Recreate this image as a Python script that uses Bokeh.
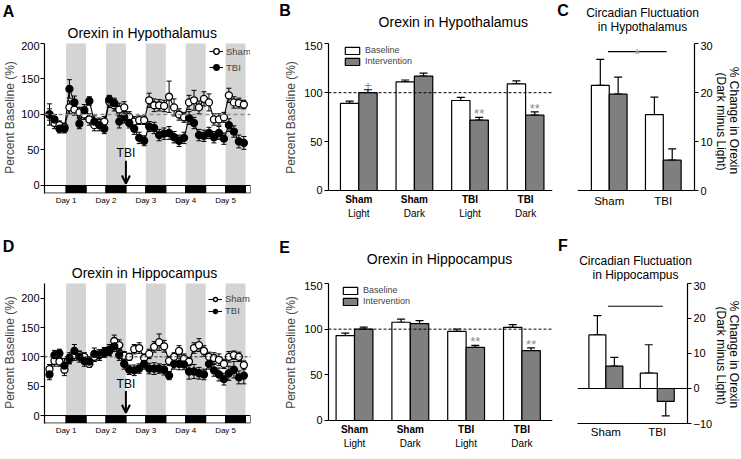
import numpy as np
from bokeh.plotting import figure
from bokeh.layouts import row, column
from bokeh.models import (ColumnDataSource, Range1d, LinearAxis, FixedTicker, Span,
                          Legend, LegendItem, Whisker, TeeHead, Arrow, OpenHead,
                          BoxAnnotation)
from bokeh.embed import file_html
from bokeh.resources import INLINE
from bokeh.core.properties import value

FONT = "Liberation Sans"
BAND = "#d4d4d4"
BAR_GRAY = "#7f7f7f"
MARK_GRAY = "#8a8a8a"

# ---------------- data ----------------
sample_hours = [2, 5, 8, 11, 14, 17, 20, 23, 26, 29, 32, 35, 38, 41, 44, 47, 50, 53, 56, 59,
                62, 65, 68, 71, 74, 77, 80, 83, 86, 89, 92, 95, 98, 101, 104, 107, 110, 113, 116, 119]
dark_start = [12, 36, 60, 84, 108]
dark_end = [24, 48, 72, 96, 120]
light_start = [-1, 24, 48, 72, 96, 120]
light_end = [12, 36, 60, 84, 108, 123]
day_ticks = [12, 36, 60, 84, 108]
day_labels = ["Day 1", "Day 2", "Day 3", "Day 4", "Day 5"]
tbi_hour = 48

hyp_sham = [100, 88, 85, 82, 110, 107, 103, 100, 93, 85, 88, 90, 118, 113, 107, 110, 97, 90, 92, 92,
            120, 113, 113, 112, 125, 110, 100, 96, 117, 120, 110, 122, 117, 93, 93, 96, 127, 117, 116, 114]
hyp_sham_sem = [15, 8, 6, 6, 9, 8, 7, 7, 8, 8, 7, 7, 8, 8, 9, 8, 7, 7, 6, 6,
                10, 9, 8, 8, 22, 12, 8, 7, 10, 14, 9, 10, 12, 8, 8, 7, 10, 8, 7, 6]
hyp_tbi = [100, 93, 80, 80, 136, 117, 87, 106, 119, 90, 85, 80, 121, 116, 90, 96, 88, 80, 67, 63,
           83, 81, 71, 73, 74, 68, 63, 67, 95, 88, 71, 70, 74, 68, 74, 66, 85, 76, 62, 60]
hyp_tbi_sem = [8, 7, 6, 6, 13, 9, 7, 8, 6, 8, 8, 7, 6, 7, 9, 8, 7, 8, 8, 7,
               7, 8, 8, 8, 9, 8, 8, 8, 9, 8, 8, 8, 8, 8, 9, 8, 9, 8, 9, 9]

hip_sham = [79, 93, 92, 78, 96, 103, 103, 100, 88, 100, 103, 108, 112, 127, 120, 102, 100, 113, 115, 98,
            105, 117, 125, 118, 93, 100, 110, 97, 92, 115, 120, 110, 100, 98, 95, 88, 100, 103, 100, 86]
hip_sham_sem = [8, 9, 8, 10, 8, 9, 7, 7, 6, 8, 9, 8, 9, 10, 9, 7, 6, 8, 9, 7,
                8, 9, 14, 10, 8, 7, 9, 8, 7, 9, 11, 9, 8, 9, 10, 8, 9, 7, 8, 7]
hip_tbi = [70, 103, 106, 85, 98, 110, 100, 93, 92, 105, 103, 107, 110, 118, 103, 88, 78, 77, 80, 88,
           80, 80, 80, 78, 68, 88, 88, 87, 75, 75, 72, 70, 88, 77, 70, 62, 72, 78, 65, 68]
hip_tbi_sem = [9, 8, 7, 12, 9, 11, 9, 9, 8, 10, 9, 8, 8, 9, 9, 9, 8, 9, 8, 9,
               9, 10, 8, 9, 7, 9, 10, 9, 13, 12, 10, 9, 9, 10, 11, 10, 12, 14, 11, 14]

bar_groups = [1, 2, 3, 4]
bar_top_labels = ["Sham", "Sham", "TBI", "TBI"]
bar_bottom_labels = ["Light", "Dark", "Light", "Dark"]

B_base = [89, 111, 92, 109]
B_base_sem = [2.3, 2.0, 3.3, 3.0]
B_int = [100, 117, 72, 77]
B_int_sem = [3.0, 3.0, 2.7, 3.3]
B_marks = ["+", "", "**", "**"]

E_base = [93, 107.6, 97.5, 102]
E_base_sem = [2.7, 3.4, 2.7, 3.0]
E_int = [100, 106, 80, 76.5]
E_int_sem = [2.3, 3.3, 2.3, 3.0]
E_marks = ["", "", "**", "**"]

circ_groups = [1, 2]
circ_labels = ["Sham", "TBI"]
C_base = [21.5, 15.5]
C_base_sem = [5.3, 3.6]
C_int = [19.7, 6.2]
C_int_sem = [3.5, 2.3]
C_sig = (0.977, 2.062, 28.4, "*")

F_base = [15.3, 4.4]
F_base_sem = [5.5, 8.1]
F_int = [6.4, -3.7]
F_int_sem = [2.5, 4.1]
F_sig = (1.04, 2.108, 23.5, "")

BAR_W = 0.33
OFF = 0.165

# ---------------- layout sizes (page pixels) ----------------
W_A, W_B, W_C, W_S = 252, 304, 159, 26
TOTAL_W = W_A + W_B + W_C + W_S
H_HEAD1, H_ROW1, H_HEAD2, H_ROW2 = 41, 181, 59, 171
MB1_BOTTOM = 29   # row 1 frames: y 41 .. 193
MB2_BOTTOM = 29   # row 2 frames: y 281 .. 423


# ---------------- helpers ----------------
def make_fig(w, h, xr, yr, mbl, mbr, mbt, mbb):
    p = figure(width=w, height=h, x_range=Range1d(*xr), y_range=Range1d(*yr),
               output_backend="svg", toolbar_location=None,
               x_axis_location=None, y_axis_location=None,
               min_border_left=mbl, min_border_right=mbr,
               min_border_top=mbt, min_border_bottom=mbb)
    p.xgrid.visible = False
    p.ygrid.visible = False
    p.outline_line_color = None
    return p


def add_axis(p, side, ticks, labels=None, axis_label=None, tick_size="11px",
             label_size="12px", show_line=True, tick_out=4, bold=False,
             standoff=2, label_standoff=3, bounds=None):
    ax = LinearAxis(ticker=FixedTicker(ticks=ticks, minor_ticks=[]))
    if bounds is not None:
        ax.bounds = bounds
    if labels is not None:
        ax.major_label_overrides = {t: l for t, l in zip(ticks, labels)}
    if axis_label:
        ax.axis_label = axis_label
        ax.axis_label_text_font = FONT
        ax.axis_label_text_font_style = "normal"
        ax.axis_label_text_font_size = label_size
        ax.axis_label_standoff = label_standoff
    ax.major_label_text_font = FONT
    ax.major_label_text_font_size = tick_size
    ax.major_label_text_color = "black"
    ax.major_label_text_font_style = "bold" if bold else "normal"
    ax.major_label_standoff = standoff
    ax.axis_line_color = "black" if show_line else None
    ax.axis_line_width = 1.2
    ax.major_tick_line_color = "black" if tick_out > 0 else None
    ax.major_tick_in = 0
    ax.major_tick_out = tick_out
    ax.minor_tick_line_color = None
    p.add_layout(ax, side)
    return ax


def text_strip(width, height, x0, y0, y1, mbb, items, angle=0.0):
    """Text-only figure; items are (x, y, text, size, bold) in page pixels."""
    h = make_fig(width, height, (x0, x0 + width), (y1, y0), 0, 0, 0, mbb)
    for it in items:
        h.text(x=[it[0]], y=[it[1]], text=[it[2]], angle=angle,
               text_font=value(FONT), text_font_size=it[3],
               text_font_style="bold" if it[4] else "normal",
               text_align="center", text_baseline="middle", text_color="black")
    return h


def time_panel(p, sham, sham_sem, tbi, tbi_sem, yticks, ytop, dash_color, dash_w, dash,
               ybottom):
    for s, e in zip(dark_start, dark_end):
        p.add_layout(BoxAnnotation(left=s, right=e, bottom=0, top=ytop, fill_color=BAND,
                                   fill_alpha=1, line_color=None, level="underlay"))
    p.quad(left=light_start, right=light_end, top=0, bottom=ybottom * 0.95,
           fill_color="white", line_color="black", line_width=1)
    p.quad(left=dark_start, right=dark_end, top=0, bottom=ybottom * 0.95,
           fill_color="black", line_color="black", line_width=1)
    p.add_layout(Span(location=100, dimension="width", line_color=dash_color,
                      line_width=dash_w, line_dash=dash))
    srcs = []
    for v, e in ((sham, sham_sem), (tbi, tbi_sem)):
        v = np.array(v, float)
        e = np.array(e, float)
        srcs.append(ColumnDataSource(dict(t=sample_hours, v=v, upper=v + e, lower=v - e)))
    for src in srcs:
        p.add_layout(Whisker(source=src, base="t", upper="upper", lower="lower",
                             line_color="black", line_width=1,
                             upper_head=TeeHead(size=5, line_color="black", line_width=1),
                             lower_head=TeeHead(size=5, line_color="black", line_width=1)))
    l_s = p.line("t", "v", source=srcs[0], line_color="black", line_width=1.1)
    l_t = p.line("t", "v", source=srcs[1], line_color="black", line_width=1.1)
    c_s = p.scatter("t", "v", source=srcs[0], marker="circle", size=7,
                    fill_color="white", line_color="black", line_width=1.3)
    c_t = p.scatter("t", "v", source=srcs[1], marker="circle", size=7,
                    fill_color="black", line_color="black", line_width=1.3)
    add_axis(p, "left", yticks, axis_label="Percent Baseline (%)",
             tick_size="11px", label_size="12px", tick_out=4, standoff=1,
             label_standoff=1, bounds=(ybottom, ytop))
    add_axis(p, "below", day_ticks, labels=day_labels, tick_size="8px",
             show_line=False, tick_out=0, standoff=2)
    return (l_s, c_s), (l_t, c_t)


def bar_source(groups, vals, sems, offset):
    v = np.array(vals, float)
    s = np.array(sems, float)
    x = np.array(groups, float) + offset
    upper = np.where(v >= 0, v + s, v)
    lower = np.where(v >= 0, v, v - s)
    return ColumnDataSource(dict(x=x, v=v, upper=upper, lower=lower))


def bars(p, groups, base, base_sem, inter, inter_sem):
    sb = bar_source(groups, base, base_sem, -OFF)
    si = bar_source(groups, inter, inter_sem, OFF)
    rs = []
    for src, col in ((sb, "white"), (si, BAR_GRAY)):
        p.add_layout(Whisker(source=src, base="x", upper="upper", lower="lower",
                             line_color="black", line_width=1.2, level="underlay",
                             upper_head=TeeHead(size=8, line_color="black", line_width=1.2),
                             lower_head=TeeHead(size=8, line_color="black", line_width=1.2)))
        rs.append(p.vbar(x="x", top="v", bottom=0, width=BAR_W, source=src,
                         fill_color=col, line_color="black", line_width=1.2))
    return rs, si


def make_legend(p, items, loc, fs, gw, gh, sp, standoff=4):
    lg = Legend(items=[LegendItem(label=l, renderers=list(r)) for l, r in items],
                location=loc, orientation="vertical",
                background_fill_alpha=0, border_line_color=None,
                label_text_font=FONT, label_text_font_size=fs,
                glyph_width=gw, glyph_height=gh, label_height=gh,
                spacing=sp, padding=0, margin=0, label_standoff=standoff)
    p.add_layout(lg)


def tbi_arrow(p, y_top, y_tip, y_text):
    p.add_layout(Arrow(x_start=tbi_hour, y_start=y_top, x_end=tbi_hour, y_end=y_tip,
                       line_width=2, line_color="black",
                       end=OpenHead(size=8, line_width=2, line_color="black")))
    p.text(x=[tbi_hour], y=[y_text], text=["TBI"], text_font=value(FONT),
           text_font_size="12px", text_align="center", text_baseline="middle")


# ---------------- Panel A ----------------
pA = make_fig(W_A, H_ROW1, (-1, 123), (-11.27, 202.8), 38, 2, 0, MB1_BOTTOM)
sA, tA = time_panel(pA, hyp_sham, hyp_sham_sem, hyp_tbi, hyp_tbi_sem,
                    [0, 50, 100, 150, 200], 200, "#8a8a8a", 1.5, "4 3", -11.27)
make_legend(pA, [("Sham", sA), ("TBI", tA)], (165, 119), "9.5px", 14, 14, 2, 3)
tbi_arrow(pA, 35, 2.8, 45.8)

# ---------------- Panel D ----------------
pD = make_fig(W_A, H_ROW2, (-1, 123), (-13.6, 228.4), 38, 2, 0, MB2_BOTTOM)
sD, tD = time_panel(pD, hip_sham, hip_sham_sem, hip_tbi, hip_tbi_sem,
                    [0, 50, 100, 150, 200], 225, "#333333", 1, "3 2", -13.6)
make_legend(pD, [("Sham", sD), ("TBI", tD)], (164, 107), "9.5px", 14, 10, 1, 3)
tbi_arrow(pD, 41.6, 4.6, 54)


# ---------------- Panels B / E ----------------
def group_panel(h, xr, yr, mbb, base, base_sem, inter, inter_sem, marks, legend_loc):
    p = make_fig(W_B, h, xr, yr, 76, 4, 0, mbb)
    p.add_layout(Span(location=100, dimension="width", line_color="black",
                      line_width=1, line_dash="3 2"))
    p.add_layout(Span(location=0, dimension="width", line_color="black", line_width=1.2))
    rs, si = bars(p, bar_groups, base, base_sem, inter, inter_sem)
    msrc = ColumnDataSource(dict(x=si.data["x"], y=si.data["upper"] + 4, t=marks))
    p.text("x", "y", text="t", source=msrc, text_font=value(FONT), text_font_size="13px",
           text_color=MARK_GRAY, text_align="center", text_baseline="alphabetic")
    add_axis(p, "left", [0, 50, 100, 150], axis_label="Percent Baseline (%)",
             tick_size="11px", label_size="12px", tick_out=4, standoff=2, label_standoff=3,
             bounds=(0, 150))
    add_axis(p, "below", bar_groups, labels=bar_top_labels, tick_size="10px",
             show_line=False, tick_out=0, bold=True, standoff=0)
    add_axis(p, "below", bar_groups, labels=bar_bottom_labels, tick_size="10px",
             show_line=False, tick_out=0, standoff=0)
    make_legend(p, [("Baseline", [rs[0]]), ("Intervention", [rs[1]])], legend_loc,
                "9px", 18, 9, 1)
    return p


pB = group_panel(H_ROW1, (0.455, 4.484), (-3.07, 152.35), MB1_BOTTOM,
                 B_base, B_base_sem, B_int, B_int_sem, B_marks, (15, 127))
pE = group_panel(H_ROW2, (0.534, 4.548), (-3.3, 152.2), MB2_BOTTOM,
                 E_base, E_base_sem, E_int, E_int_sem, E_marks, (13, 117))


# ---------------- Panels C / F ----------------
def circ_panel(h, xr, yr, yticks, ybounds, mbb, base, base_sem, inter, inter_sem, sig,
               zero_is_axis):
    p = make_fig(W_C, h, xr, yr, 21, 19, 0, mbb)
    p.add_layout(Span(location=0, dimension="width", line_color="black", line_width=1.2))
    bars(p, circ_groups, base, base_sem, inter, inter_sem)
    x0, x1, y, star = sig
    p.segment(x0=[x0], y0=[y], x1=[x1], y1=[y], line_color="black", line_width=1.2)
    if star:
        p.text(x=[(x0 + x1) / 2], y=[y - 0.5], text=[star], text_font=value(FONT),
               text_font_size="14px", text_color=MARK_GRAY, text_align="center",
               text_baseline="alphabetic")
    add_axis(p, "right", yticks, tick_size="11px", tick_out=4, standoff=2, bounds=ybounds)
    add_axis(p, "below", circ_groups, labels=circ_labels, tick_size="11.5px",
             show_line=not zero_is_axis, tick_out=0, standoff=1 if zero_is_axis else 2)
    return p


pC = circ_panel(H_ROW1, (0.413, 2.577), (-0.61, 30.47), [0, 10, 20, 30], (0, 30), MB1_BOTTOM,
                C_base, C_base_sem, C_int, C_int_sem, C_sig, True)
pF = circ_panel(H_ROW2, (0.448, 2.588), (-10, 30.57), [-10, 0, 10, 20, 30], (-10, 30),
                MB2_BOTTOM, F_base, F_base_sem, F_int, F_int_sem, F_sig, False)

RIGHT_LABEL_1 = "% Change in Orexin"
RIGHT_LABEL_2 = "(Dark minus Light)"
x_strip = W_A + W_B + W_C
sC = text_strip(W_S, H_ROW1, x_strip, H_HEAD1, H_HEAD1 + H_ROW1 - MB1_BOTTOM, MB1_BOTTOM, [
    (720, 121, RIGHT_LABEL_2, "12px", False),
    (733, 120, RIGHT_LABEL_1, "12px", False)], angle=-np.pi / 2)
top2 = H_HEAD1 + H_ROW1 + H_HEAD2
sF = text_strip(W_S, H_ROW2, x_strip, top2, top2 + H_ROW2 - MB2_BOTTOM, MB2_BOTTOM, [
    (720, 355, RIGHT_LABEL_2, "12px", False),
    (733, 354, RIGHT_LABEL_1, "12px", False)], angle=-np.pi / 2)

# ---------------- headers (panel letters and titles) ----------------
head1 = text_strip(TOTAL_W, H_HEAD1, 0, 0, H_HEAD1, 0, [
    (8, 10.5, "A", "16px", True),
    (284.5, 10, "B", "16px", True),
    (562.5, 10, "C", "16px", True),
    (141.7, 32.5, "Orexin in Hypothalamus", "14px", False),
    (452.8, 21.7, "Orexin in Hypothalamus", "14px", False),
    (642, 12.5, "Circadian Fluctuation", "12px", False),
    (642, 26.7, "in Hypothalamus", "12px", False),
])
y_h2 = H_HEAD1 + H_ROW1
head2 = text_strip(TOTAL_W, H_HEAD2, 0, y_h2, y_h2 + H_HEAD2, 0, [
    (8, 246, "D", "16px", True),
    (284, 246.5, "E", "16px", True),
    (562.5, 245, "F", "16px", True),
    (144, 272, "Orexin in Hippocampus", "14px", False),
    (439, 258, "Orexin in Hippocampus", "14px", False),
    (635, 260, "Circadian Fluctuation", "12px", False),
    (635, 274, "in Hippocampus", "12px", False),
])

layout = column(head1, row(pA, pB, pC, sC), head2, row(pD, pE, pF, sF))
open("out.html", "w").write(file_html(layout, INLINE))
